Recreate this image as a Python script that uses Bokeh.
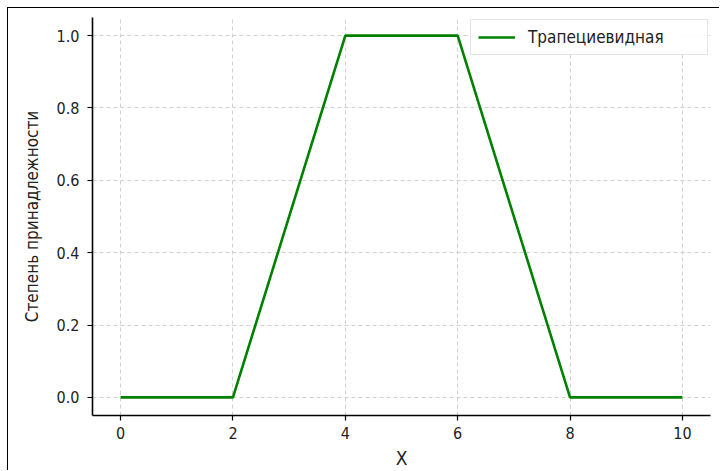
from bokeh.plotting import figure
from bokeh.models import Range1d, FixedTicker, Legend, LegendItem, CustomJSTickFormatter
from bokeh.embed import file_html
from bokeh.resources import INLINE

# Trapezoidal membership function vertices
x_vals = [0, 2, 4, 6, 8, 10]
y_vals = [0.0, 0.0, 1.0, 1.0, 0.0, 0.0]
x_ticks = [0, 2, 4, 6, 8, 10]
y_ticks = [0.0, 0.2, 0.4, 0.6, 0.8, 1.0]
series_label = "Трапециевидная"
x_label = "X"
y_label = "Степень принадлежности"

FONT = "Liberation Sans Narrow, DejaVu Sans Condensed, sans-serif"

p = figure(width=712, height=463, output_backend="svg", toolbar_location=None,
           x_range=Range1d(-0.5, 10.5), y_range=Range1d(-0.05, 1.05),
           min_border_left=84, min_border_right=10, min_border_top=9, min_border_bottom=50,
           styles={"margin-left": "8px", "margin-top": "8px",
                   "box-shadow": "-1px -1px 0 0 #000"})
p.outline_line_color = None
p.background_fill_color = "white"
p.border_fill_color = "white"

r = p.line(x_vals, y_vals, line_color="#008000", line_width=2.6)

for ax in (p.xaxis[0], p.yaxis[0]):
    ax.axis_line_color = "black"
    ax.axis_line_width = 1.6
    ax.major_tick_line_color = "black"
    ax.major_tick_line_width = 1.2
    ax.major_tick_in = 0
    ax.major_tick_out = 5
    ax.minor_tick_line_color = None
    ax.major_label_text_font = FONT
    ax.major_label_text_font_size = "16px"
    ax.major_label_text_color = "#222222"
    ax.axis_label_text_font = FONT
    ax.axis_label_text_font_style = "normal"
    ax.axis_label_text_color = "#222222"

p.xaxis.ticker = FixedTicker(ticks=x_ticks)
p.yaxis.ticker = FixedTicker(ticks=y_ticks)
p.xaxis.axis_label = x_label
p.yaxis.axis_label = y_label
p.xaxis.axis_label_text_font_size = "19px"
p.yaxis.axis_label_text_font_size = "17px"
p.xaxis.major_label_standoff = 6
p.yaxis.major_label_standoff = 8
p.xaxis.axis_label_standoff = 5
p.yaxis.axis_label_standoff = 12
p.yaxis.formatter = CustomJSTickFormatter(code="return tick.toFixed(1);")

p.xgrid.grid_line_color = "#cccccc"
p.ygrid.grid_line_color = "#cccccc"
p.xgrid.grid_line_dash = "4 3"
p.ygrid.grid_line_dash = "4 3"
p.xgrid.grid_line_width = 0.9
p.ygrid.grid_line_width = 0.9

legend = Legend(items=[LegendItem(label=series_label, renderers=[r])],
                location="top_right", margin=2, padding=7,
                glyph_width=37, label_standoff=13, label_width=172,
                label_text_font=FONT, label_text_font_size="17px",
                label_text_color="#222222",
                border_line_color="#cccccc", border_line_width=1.2,
                background_fill_alpha=0.9)
p.add_layout(legend)

open("out.html", "w").write(file_html(p, INLINE))
